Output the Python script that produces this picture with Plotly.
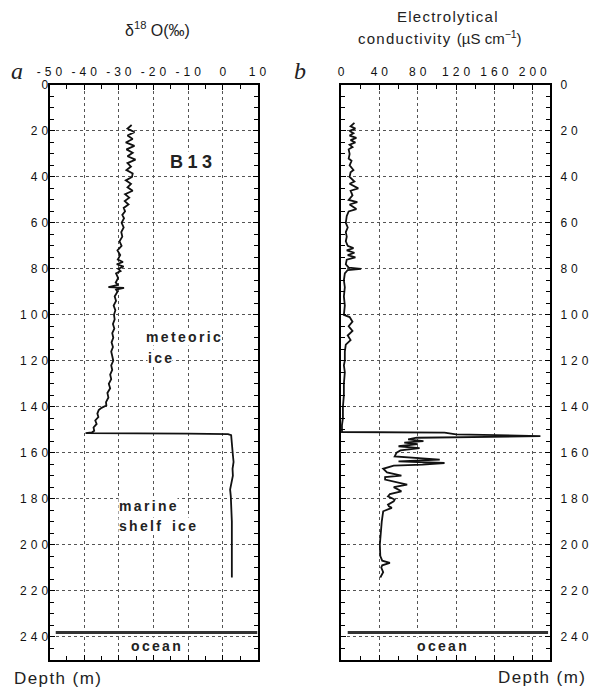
import plotly.graph_objects as go

W, H = 590, 689

# ---------------- data ----------------
d18o_depth = [17.4, 19, 20.5, 22, 23.5, 25, 26.5, 28, 29.5, 31, 32.5, 34, 35.5, 37, 38.5,
              40, 41.5, 43, 44.5, 46, 47.5, 49, 50.5, 52, 53.5, 55, 56.5, 58, 60, 62,
              64, 66, 68, 70, 72, 74, 76, 77, 78, 79, 80, 81, 82, 84, 86, 87, 88, 88.3,
              89, 90, 92, 94, 96, 98, 100, 102, 104, 106, 108, 110, 112, 114, 116, 118,
              120, 122, 124, 126, 128, 130, 132, 134, 136, 138, 139.5, 140.5, 141.5, 143,
              144.5, 146, 147.5, 149, 150.5, 151.2, 151.5, 151.7, 151.9, 152.4, 155, 158,
              161, 164, 167, 170, 173, 176, 179, 182, 186, 190, 195, 200, 205, 210, 214.3]
d18o_value = [-26.3, -27.5, -25.5, -27.5, -26, -28, -25.5, -27.8, -26, -27.5, -25.2, -27.5,
              -26.5, -27.8, -26, -26.2, -28, -26.5, -27.5, -26, -28.2, -27, -28.3, -27.2,
              -28.6, -28.2, -29, -28.5, -29.2, -28.6, -29.3, -29, -29.8, -29.2, -30.4,
              -29.6, -30.3, -28.8, -30.6, -28.6, -30.2, -29.5, -30.8, -30.2, -30.9, -30.2,
              -33, -28.5, -30.8, -30.4, -31.2, -30.8, -31.5, -31, -31.4, -31.2, -31.7,
              -31.3, -31.9, -31.6, -32.1, -31.7, -32.2, -31.8, -31.6, -32.2, -31.9, -32.5,
              -32.2, -32.9, -32.5, -33.3, -33, -33.7, -33.6, -35, -35.8, -36.2, -35.9,
              -36.8, -36.4, -37.3, -37.1, -37.8, -39.6, -10, 1.5, 2.4, 2.5, 2.6, 2.9, 3.1,
              2.8, 2.9, 2.4, 2.1, 2.3, 2.4, 2.5, 2.6, 2.6, 2.5, 2.6, 2.6, 2.6]

cond_depth = [16.5, 18, 19, 20, 21, 22, 23, 24, 25, 26, 27, 28, 30, 32, 33, 35, 37, 38, 40,
              42, 43, 45, 46, 48, 50, 51, 52, 54, 55, 57, 60, 62, 64, 66, 68, 70, 71, 72,
              73, 74, 75, 76, 78, 79.5, 80, 80.5, 82, 85, 88, 92, 96, 100, 101, 103, 105,
              107, 109, 111, 113, 116, 120, 122, 125, 130, 135, 140, 145, 148, 151, 151.3,
              152, 152.8, 153.5, 154.2, 155, 155.6, 156.3, 157.2, 158, 159, 160, 161.6,
              163, 163.8, 164.5, 165.2, 165.6, 167, 168.6, 170, 170.6, 171.7, 173.9, 175,
              176.8, 178, 179, 180.4, 181.2, 182.6, 183.3, 184, 185.5, 188, 190, 195, 200,
              205, 207, 208, 209, 210, 212, 214.3]
cond_value = [14, 10, 15, 9, 13, 9, 16, 10, 15, 9, 12, 8, 9, 8, 11, 9, 13, 10, 9, 14, 9, 18,
              10, 12, 8, 17, 9, 16, 8, 6, 5, 7, 5, 6, 5, 7, 13, 6, 14, 7, 15, 6, 5, 8, 21, 7,
              4, 3, 4, 3, 4, 3, 9, 12, 8, 12, 7, 10, 5, 4, 4, 3, 4, 3, 3, 2, 2, 1, 1, 108,
              120, 208, 79, 70, 86, 66, 80, 60, 82, 62, 58, 56, 103, 60, 108, 85, 55, 44,
              48, 63, 46, 46, 69, 55, 63, 51, 49, 56, 55, 49, 50, 53, 44, 43, 42.5, 41.5,
              40.5, 41, 43, 51, 43, 42, 44, 41]

depth_ticks = list(range(0, 241, 20))
d18o_ticks = [-50, -40, -30, -20, -10, 0, 10]
cond_ticks = [0, 40, 80, 120, 160, 200]

# ---------------- helpers ----------------
SANS = "Liberation Sans, Arial, sans-serif"


def sp(s, ch="\u2004"):
    return ch.join(list(s))


def px_x(px):
    return px / W


def px_y(py):
    return 1 - py / H


y_dom = [px_y(659.5), px_y(85)]

fig = go.Figure()
fig.add_trace(go.Scatter(x=d18o_value, y=d18o_depth, mode="lines",
                         line=dict(color="#111", width=1.8), xaxis="x", yaxis="y",
                         hoverinfo="skip"))
fig.add_trace(go.Scatter(x=cond_value, y=cond_depth, mode="lines",
                         line=dict(color="#111", width=1.8), xaxis="x2", yaxis="y2",
                         hoverinfo="skip"))

common = dict(showline=True, linewidth=2, linecolor="black", mirror="allticks",
              ticks="inside", ticklen=5, tickwidth=1.3, tickcolor="black",
              showgrid=True, gridcolor="#555", griddash="dot", gridwidth=1,
              zeroline=False, tickfont=dict(family=SANS, size=12, color="#111"),
              fixedrange=True, automargin=False)
minor_y = dict(ticks="inside", ticklen=4, tickwidth=1.3, dtick=5, tick0=0,
               tickcolor="black", showgrid=False)

fig.update_layout(
    width=W, height=H, margin=dict(l=0, r=0, t=0, b=0, autoexpand=False),
    paper_bgcolor="white", plot_bgcolor="white", showlegend=False,
    xaxis=dict(common, domain=[px_x(49.5), px_x(257.5)], range=[-50, 10], side="top",
               anchor="y", tickmode="array", tickvals=d18o_ticks,
               ticktext=[sp(str(v)) for v in d18o_ticks], ticklabelstandoff=2,
               minor=dict(minor_y, dtick=5, tick0=0)),
    yaxis=dict(common, domain=y_dom, range=[250, 0], anchor="x", side="left",
               tickmode="array", tickvals=depth_ticks, ticklabelstandoff=-3,
               ticktext=[sp(str(v)) for v in depth_ticks], minor=minor_y),
    xaxis2=dict(common, domain=[px_x(341), px_x(550)], range=[0, 218], side="top",
                anchor="y2", tickmode="array", tickvals=cond_ticks,
                ticktext=[sp(str(v)) for v in cond_ticks], ticklabelstandoff=2,
                minor=dict(minor_y, dtick=20, tick0=0)),
    yaxis2=dict(common, domain=y_dom, range=[250, 0], anchor="x2", side="right",
                tickmode="array", tickvals=depth_ticks, ticklabelstandoff=6,
                ticktext=[sp(str(v)) for v in depth_ticks], minor=minor_y),
)

# ocean lines
fig.add_shape(type="line", xref="x", yref="y", x0=-48.2, x1=10, y0=238.3, y1=238.3,
              line=dict(color="#333", width=3))
fig.add_shape(type="line", xref="x2", yref="y2", x0=7, x1=216, y0=238.3, y1=238.3,
              line=dict(color="#333", width=3))

ann = []


def A(text, x, y, xref="paper", yref="paper", size=12, xanchor="center",
      yanchor="middle", bg=None, family=SANS, color="#222"):
    d = dict(text=text, x=x, y=y, xref=xref, yref=yref, showarrow=False,
             xanchor=xanchor, yanchor=yanchor,
             font=dict(family=family, size=size, color=color), borderpad=0)
    if bg:
        d["bgcolor"] = bg
    ann.append(d)


# titles
A("δ<sup>18</sup> O(‰)", px_x(157.5), px_y(29), size=16)
A(sp("Electrolytical", "\u200a"), px_x(447), px_y(17), size=15)
A(sp("conductivity (", "\u200a") + "µS cm<sup>−1</sup>)", px_x(440), px_y(37), size=15)
A("<i>a</i>", px_x(17), px_y(71), size=24, family="Liberation Serif, Times New Roman, serif")
A("<i>b</i>", px_x(300), px_y(71), size=24, family="Liberation Serif, Times New Roman, serif")
A(sp("Depth (m)", "\u200a"), px_x(13), px_y(678), size=17, xanchor="left")
A(sp("Depth (m)", "\u200a"), px_x(497), px_y(677), size=17, xanchor="left")

# in-panel labels
A("<b>" + sp("B13", "\u2005") + "</b>", -9.3, 33.5, "x", "y", size=18, bg="white")
A("<b>" + sp("meteoric", "\u2006") + "</b>", -22.4, 109.8, "x", "y", size=14,
  xanchor="left", bg="white")
A("<b>" + sp("ice", "\u2006") + "</b>", -21.8, 118.8, "x", "y", size=14,
  xanchor="left", bg="white")
A("<b>" + sp("marine", "\u2006") + "</b>", -30.3, 183, "x", "y", size=14,
  xanchor="left", bg="white")
A("<b>" + sp("shelf", "\u2006") + "\u2002 " + sp("ice", "\u2006") + "</b>", -30.3, 191.7,
  "x", "y", size=14, xanchor="left", bg="white")
A("<b>" + sp("ocean", "\u2006") + "</b>", -19.3, 244.3, "x", "y", size=14, bg="white")
A("<b>" + sp("ocean", "\u2006") + "</b>", 105, 244.3, "x2", "y2", size=14, bg="white")

fig.update_layout(annotations=ann)

fig.write_html("out.html", config={"displayModeBar": False},
               post_script="document.body.style.margin='0';"
                           "document.body.style.overflow='hidden';")
